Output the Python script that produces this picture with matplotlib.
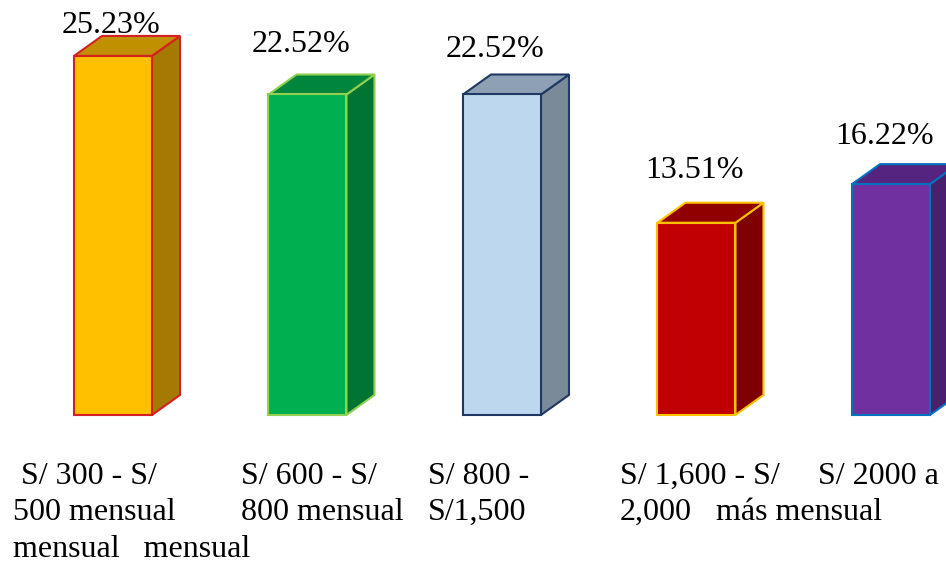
import matplotlib.pyplot as plt
from matplotlib.patches import Polygon

plt.rcParams['font.family'] = ['Liberation Serif', 'DejaVu Serif']

# datos
categorias = ['S/ 300 - S/ 500 mensual', 'S/ 600 - S/ 800 mensual', 'S/ 800 - S/1,500',
              'S/ 1,600 - S/ 2,000', 'S/ 2000 a más mensual']
porcentajes = [25.23, 22.52, 22.52, 13.51, 16.22]
etiquetas_eje = [[' S/ 300 - S/', '500 mensual', 'mensual   mensual'],
                 ['S/ 600 - S/', '800 mensual'],
                 ['S/ 800 -', 'S/1,500'],
                 ['S/ 1,600 - S/', '2,000'],
                 ['S/ 2000 a', 'más mensual']]

# colores: frente, tapa, lado, borde
frente = ['#FFC000', '#00B050', '#BDD7EE', '#C00000', '#7030A0']
tapa = ['#C09000', '#00863C', '#8EA0B3', '#900000', '#552480']
lado = ['#A47B00', '#007433', '#7A8A99', '#7E0000', '#4A1F6C']
borde = ['#D42020', '#92D050', '#1F3864', '#FFC000', '#0070C0']

# ajuste fino de la posición de las etiquetas de valor
sep_x = [-0.01, -0.033, -0.036, -0.008, -0.031]
sep_y = [2.11, 3.48, 3.16, 3.65, 3.37]

fig = plt.figure(figsize=(9.46, 5.65), dpi=100)
ax = fig.add_axes([0, 0, 1, 1])
ax.set_xlim(-0.581, 4.283)
ax.set_ylim(-10.54, 29.16)
ax.axis('off')

ancho = 0.401
dx, dy = 0.144, 1.405   # profundidad del efecto 3D

for i, v in enumerate(porcentajes):
    x0 = i - ancho / 2
    x1 = i + ancho / 2
    # cara lateral
    ax.add_patch(Polygon([(x1, 0), (x1 + dx, dy), (x1 + dx, v + dy), (x1, v)],
                         closed=True, facecolor=lado[i], edgecolor=borde[i], lw=1.5, zorder=2))
    # tapa
    ax.add_patch(Polygon([(x0, v), (x0 + dx, v + dy), (x1 + dx, v + dy), (x1, v)],
                         closed=True, facecolor=tapa[i], edgecolor=borde[i], lw=1.5, zorder=2))
    # frente
    ax.bar(i, v, width=ancho, bottom=0, color=frente[i], edgecolor=borde[i], lw=1.5, zorder=3)
    ax.text(i + sep_x[i], v + sep_y[i], f'{v:.2f}%', ha='center', va='center',
            fontsize=23, color='black')

# etiquetas de categoría, una línea a la vez
desplaz = [-0.514, -0.342, -0.38, -0.393, -0.375]
sangria = {(4, 1): -0.9}   # la segunda línea de la última etiqueta empieza más a la izquierda
for i, lineas in enumerate(etiquetas_eje):
    for k, linea in enumerate(lineas):
        ax.text(i + sangria.get((i, k), desplaz[i]), -4.85 - 2.55 * k, linea,
                ha='left', va='baseline', fontsize=23, color='black')

fig.savefig('out.png', dpi=100)
